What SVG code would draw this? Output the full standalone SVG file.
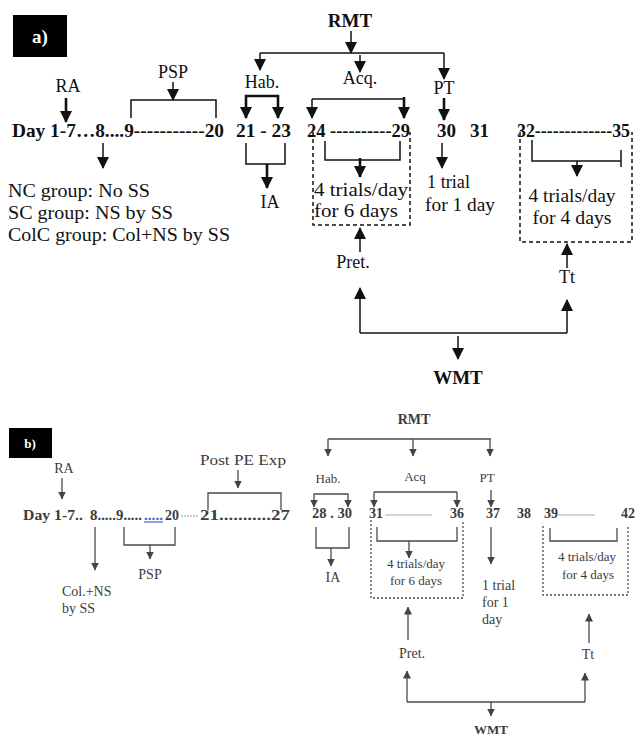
<svg xmlns="http://www.w3.org/2000/svg" width="636" height="738" viewBox="0 0 636 738">
<style>
text{font-family:"Liberation Serif","Times New Roman",serif}
.a{font-size:18px;fill:#111}
.ab{font-size:19px;font-weight:bold;fill:#111}
.am{text-anchor:middle}
.b{font-size:14px;fill:#3c3c3c}
.bb{font-size:14px;font-weight:bold;fill:#3c3c3c}
.w{fill:#fff;font-weight:bold}
.la{stroke:#111;stroke-width:1.5;fill:none}
.lt{stroke-width:2.6}
.da{stroke-dasharray:4 3}
.lb{stroke:#4a4a4a;stroke-width:1.3;fill:none}
.db{stroke-dasharray:2 2}
.ea{marker-end:url(#ah)}
.eb{marker-end:url(#bh)}
</style>
<defs>
<marker id="ah" markerUnits="userSpaceOnUse" viewBox="0 0 12 12" markerWidth="12" markerHeight="12" refX="11" refY="6" orient="auto"><path d="M0,0 L12,6 L0,12 z" fill="#111"/></marker>
<marker id="bh" markerUnits="userSpaceOnUse" viewBox="0 0 8 8" markerWidth="8" markerHeight="8" refX="7.5" refY="4" orient="auto"><path d="M0,0 L8,4 L0,8 z" fill="#444"/></marker>
</defs>
<rect width="636" height="738" fill="#fff"/>

<!-- ===== Panel a ===== -->
<g id="a-label"><rect x="13" y="15" width="54" height="42" fill="#000"/><text class="ab w am" x="40" y="43">a)</text></g>
<g id="a-rmt"><text class="ab am" x="350" y="27">RMT</text></g>
<g id="a-hab"><text class="a am" x="262" y="88">Hab.</text></g>
<g id="a-acq"><text class="a am" x="360" y="84">Acq.</text></g>
<g id="a-pt"><text class="a am" x="444" y="94">PT</text></g>
<g id="a-ra"><text class="a am" x="68" y="92">RA</text></g>
<g id="a-psp"><text class="a am" x="173" y="78">PSP</text></g>
<g id="a-days">
<text class="ab" x="12" y="137" textLength="212" lengthAdjust="spacingAndGlyphs">Day 1-7…8....9-----------20</text>
<text class="ab" x="236" y="137" textLength="55" lengthAdjust="spacingAndGlyphs">21 - 23</text>
<text class="ab" x="307" y="137" textLength="103" lengthAdjust="spacingAndGlyphs">24 ----------29</text>
<text class="ab" x="437" y="137">30</text>
<text class="ab" x="470" y="137">31</text>
<text class="ab" x="517" y="137" textLength="113" lengthAdjust="spacingAndGlyphs">32-------------35</text>
</g>
<g id="a-groups">
<text class="a" x="8" y="197" textLength="142" lengthAdjust="spacingAndGlyphs">NC group: No SS</text>
<text class="a" x="8" y="219" textLength="165" lengthAdjust="spacingAndGlyphs">SC group: NS by SS</text>
<text class="a" x="8" y="241" textLength="222" lengthAdjust="spacingAndGlyphs">ColC group: Col+NS by SS</text>
</g>
<g id="a-ia"><text class="a am" x="270" y="208">IA</text></g>
<g id="a-acqbox">
<path class="la da" d="M313,132 V225 H410 V132"/>
<text class="a am" x="361" y="196" textLength="94" lengthAdjust="spacingAndGlyphs">4 trials/day</text>
<text class="a am" x="356" y="217" textLength="84" lengthAdjust="spacingAndGlyphs">for 6 days</text>
</g>
<g id="a-pttext">
<text class="a" x="427" y="188" textLength="43" lengthAdjust="spacingAndGlyphs">1 trial</text>
<text class="a" x="425" y="211" textLength="70" lengthAdjust="spacingAndGlyphs">for 1 day</text>
</g>
<g id="a-ttbox">
<path class="la da" d="M520,132 V242 H632 V132"/>
<text class="a am" x="572" y="202" textLength="87" lengthAdjust="spacingAndGlyphs">4 trials/day</text>
<text class="a am" x="572" y="224" textLength="79" lengthAdjust="spacingAndGlyphs">for 4 days</text>
</g>
<g id="a-pret"><text class="a am" x="353" y="268">Pret.</text></g>
<g id="a-tt"><text class="a am" x="567" y="283">Tt</text></g>
<g id="a-wmt"><text class="ab am" x="458" y="384">WMT</text></g>

<!-- ===== Panel b ===== -->
<g id="b-label"><rect x="9" y="428" width="43" height="30" fill="#000"/><text class="bb w am" x="30" y="448" style="font-size:13px">b)</text></g>
<g id="b-postpe"><text class="b am" x="243" y="465" textLength="86" lengthAdjust="spacingAndGlyphs" style="font-size:15px">Post PE Exp</text></g>
<g id="b-ra"><text class="b am" x="64" y="473">RA</text></g>
<g id="b-rmt"><text class="bb am" x="414" y="424">RMT</text></g>
<g id="b-hab"><text class="b am" x="328" y="483" style="font-size:13px">Hab.</text></g>
<g id="b-acq"><text class="b am" x="415" y="481" style="font-size:13px">Acq</text></g>
<g id="b-pt"><text class="b am" x="487" y="482" style="font-size:13px">PT</text></g>
<g id="b-days">
<text class="bb" x="23" y="520" textLength="60" lengthAdjust="spacingAndGlyphs">Day 1-7..</text>
<text class="bb" x="90" y="520" textLength="52" lengthAdjust="spacingAndGlyphs">8.....9.....</text>
<text class="bb" x="144" y="520" textLength="19" lengthAdjust="spacingAndGlyphs" style="fill:#4a64b4">.....</text>
<line x1="144" y1="522" x2="163" y2="522" stroke="#6d83c8" stroke-width="1.5"/>
<text class="bb" x="165" y="520">20</text>
<line x1="181" y1="516" x2="199" y2="516" stroke="#999" stroke-width="1" stroke-dasharray="2 1"/>
<text class="bb" x="200" y="520" textLength="90" lengthAdjust="spacingAndGlyphs">21...........27</text>
<text class="bb" x="312" y="518" textLength="40" lengthAdjust="spacingAndGlyphs">28 . 30</text>
<text class="bb" x="369" y="518">31</text>
<line x1="385" y1="515" x2="432" y2="515" stroke="#aaa" stroke-width="1"/>
<text class="bb" x="450" y="518">36</text>
<text class="bb" x="486" y="518">37</text>
<text class="bb" x="517" y="518">38</text>
<text class="bb" x="544" y="518">39</text>
<line x1="558" y1="515" x2="595" y2="515" stroke="#aaa" stroke-width="1"/>
<text class="bb" x="621" y="518">42</text>
</g>
<g id="b-col"><text class="b" x="62" y="596">Col.+NS</text><text class="b" x="62" y="613">by SS</text></g>
<g id="b-psp"><text class="b am" x="150" y="579">PSP</text></g>
<g id="b-ia"><text class="b am" x="333" y="582">IA</text></g>
<g id="b-acqbox">
<path class="lb db" d="M371,520 V598 H463 V520"/>
<text class="b am" x="416" y="568" style="font-size:13px">4 trials/day</text>
<text class="b am" x="416" y="585" style="font-size:13px">for 6 days</text>
</g>
<g id="b-pttext">
<text class="b" x="482" y="590">1 trial</text>
<text class="b" x="482" y="607">for 1</text>
<text class="b" x="482" y="624">day</text>
</g>
<g id="b-ttbox">
<path class="lb db" d="M543,526 V595 H628 V526"/>
<text class="b am" x="587" y="561" style="font-size:13px">4 trials/day</text>
<text class="b am" x="588" y="579" style="font-size:13px">for 4 days</text>
</g>
<g id="b-pret"><text class="b am" x="412" y="658">Pret.</text></g>
<g id="b-tt"><text class="b am" x="588" y="659">Tt</text></g>
<g id="b-wmt"><text class="bb am" x="491" y="734" style="font-size:13px">WMT</text></g>

<!-- ===== Connectors ===== -->
<g id="connectors">
<!-- panel a -->
<path class="la ea" d="M351,31 V53"/>
<path class="la" d="M260,53 H444"/>
<path class="la ea" d="M260,53 V70"/>
<path class="la ea" d="M360,55 V72"/>
<path class="la ea" d="M444,53 V79"/>
<path class="la lt ea" d="M66,98 V122"/>
<path class="la ea" d="M173,82 V100"/>
<path class="la" d="M131,118 V100 H216 V118"/>
<path class="la lt ea" d="M262,96 H246 V118"/>
<path class="la lt ea" d="M262,96 H278 V118"/>
<path class="la" d="M312,99 H404"/>
<path class="la ea" d="M312,99 V118"/>
<path class="la lt ea" d="M404,97 V118"/>
<path class="la lt ea" d="M444,98 V120"/>
<path class="la ea" d="M103,143 V168"/>
<path class="la" d="M246,143 V164 H285 V143"/>
<path class="la lt ea" d="M267,164 V188"/>
<path class="la" d="M325,141 V160 H400 V141"/>
<path class="la lt ea" d="M360,158 V177"/>
<path class="la ea" d="M442,143 V168"/>
<path class="la" d="M532,140 V161 H621"/>
<path class="la" d="M621,150 V167"/>
<path class="la ea" d="M577,161 V176"/>
<path class="la ea" d="M360,252 V228"/>
<path class="la ea" d="M567,268 V244"/>
<path class="la ea" d="M360,333 V288"/>
<path class="la ea" d="M567,333 V300"/>
<path class="la" d="M360,333 H567"/>
<path class="la ea" d="M458,336 V359"/>
<!-- panel b -->
<path class="lb eb" d="M238,470 V488"/>
<path class="lb" d="M208,510 V493 H281 V510"/>
<path class="lb eb" d="M62,478 V499"/>
<path class="lb eb" d="M95,527 V570"/>
<path class="lb" d="M124,527 V545 H175 V527"/>
<path class="lb eb" d="M150,545 V559"/>
<path class="lb" d="M328,439 H491"/>
<path class="lb eb" d="M328,439 V456"/>
<path class="lb eb" d="M413,439 V456"/>
<path class="lb eb" d="M490,439 V456"/>
<path class="lb eb" d="M331,494 H314 V507"/>
<path class="lb eb" d="M331,494 H348 V507"/>
<path class="lb" d="M374,492 H457"/>
<path class="lb eb" d="M374,492 V507"/>
<path class="lb eb" d="M457,492 V507"/>
<path class="lb eb" d="M491,490 V507"/>
<path class="lb" d="M316,527 V548 H349 V527"/>
<path class="lb eb" d="M331,548 V566"/>
<path class="lb" d="M377,527 V541 H457 V527"/>
<path class="lb eb" d="M409,541 V558"/>
<path class="lb eb" d="M408,640 V607"/>
<path class="lb eb" d="M491,527 V564"/>
<path class="lb" d="M550,528 V541 H617 V528"/>
<path class="lb eb" d="M589,643 V614"/>
<path class="lb eb" d="M407,702 V671"/>
<path class="lb eb" d="M585,702 V673"/>
<path class="lb" d="M407,702 H585"/>
<path class="lb eb" d="M491,702 V716"/>
</g>
</svg>
